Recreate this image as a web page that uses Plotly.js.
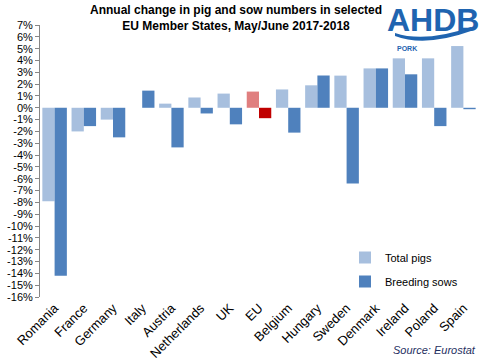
<!DOCTYPE html>
<html>
<head>
<meta charset="utf-8">
<script src="https://cdn.plot.ly/plotly-3.0.1.min.js"></script>
<style>html,body{margin:0;padding:0;background:#fff;}#chart{width:480px;height:360px;}</style>
</head>
<body>
<div id="chart"></div>
<script>
const countries = ["Romania","France","Germany","Italy","Austria","Netherlands","UK","EU","Belgium","Hungary","Sweden","Denmark","Ireland","Poland","Spain"];
const totalPigs = [-7.9,-2.0,-1.0,0.0,0.35,0.87,1.2,1.37,1.55,1.9,2.72,3.33,4.18,4.18,5.22];
const breedingSows = [-14.2,-1.55,-2.5,1.45,-3.35,-0.48,-1.4,-0.88,-2.1,2.73,-6.4,3.33,2.83,-1.55,-0.12];
const yTickVals = [7,6,5,4,3,2,1,0,-1,-2,-3,-4,-5,-6,-7,-8,-9,-10,-11,-12,-13,-14,-15,-16];
const yTickText = yTickVals.map(v => (v < 0 ? "-" + Math.abs(v) : String(v)) + "%");

const lightCol = "#a7bfde", darkCol = "#4f81bd", euLight = "#e07f7f", euDark = "#c00000";
const lightColors = countries.map(c => c === "EU" ? euLight : lightCol);
const darkColors = countries.map(c => c === "EU" ? euDark : darkCol);

const Y0 = -16, Y1 = 7;
const L = 40, R = 2, T = 25, B = 63, W = 480, H = 360;
const pw = W - L - R, ph = H - T - B;
const px = x => (x - L) / pw;
const py = y => (H - B - y) / ph;

const font = "Liberation Sans, Arial, sans-serif";

const traces = [
  {type: "bar", name: "Total pigs", x: countries, y: totalPigs, marker: {color: lightColors}, legendgroup: "a"},
  {type: "bar", name: "Breeding sows", x: countries, y: breedingSows, marker: {color: darkColors}, legendgroup: "b"}
];

function swoosh() {
  const p = [[395,33],[425,43],[471,27],[471,31],[425,47.5],[395,36]];
  const f = q => px(q[0]).toFixed(4) + "," + py(q[1]).toFixed(4);
  return "M" + f(p[0]) + " Q" + f(p[1]) + " " + f(p[2]) + " L" + f(p[3]) + " Q" + f(p[4]) + " " + f(p[5]) + " Z";
}

const layout = {
  width: W, height: H,
  margin: {l: L, r: R, t: T, b: B, pad: 0},
  paper_bgcolor: "#fff", plot_bgcolor: "rgba(0,0,0,0)",
  font: {family: font, size: 11, color: "#000"},
  barmode: "group", bargap: 0.16, bargroupgap: 0,
  xaxis: {
    type: "category", range: [-0.5, 14.5], showline: false, ticks: "", showgrid: false, zeroline: false,
    tickangle: -45, tickfont: {family: font, size: 13, color: "#000"}, automargin: false
  },
  xaxis2: {
    overlaying: "x", anchor: "free", position: (0 - Y0) / (Y1 - Y0), type: "linear",
    range: [-0.5, 14.5], tick0: -0.5, dtick: 1, showticklabels: false, showgrid: false, zeroline: false,
    showline: true, linecolor: "#868686", linewidth: 1, ticks: "outside", ticklen: 5, tickcolor: "#868686"
  },
  yaxis: {
    range: [Y0, Y1], tickmode: "array", tickvals: yTickVals, ticktext: yTickText,
    showline: true, linecolor: "#868686", linewidth: 1, ticks: "outside", ticklen: 4, tickcolor: "#868686",
    showgrid: false, zeroline: false, tickfont: {family: font, size: 11, color: "#000"}, automargin: false
  },
  legend: {
    x: px(345), y: py(243), xanchor: "left", yanchor: "top", orientation: "v",
    font: {family: font, size: 11, color: "#000"}, bgcolor: "rgba(0,0,0,0)", tracegroupgap: 5
  },
  annotations: [
    {xref: "paper", yref: "paper", x: px(236), y: py(1), xanchor: "center", yanchor: "top", showarrow: false,
     text: "<b>Annual change in pig and sow numbers in selected<br>EU Member States, May/June 2017-2018</b>",
     font: {family: font, size: 12, color: "#000"}},
    {xref: "paper", yref: "paper", x: px(478), y: py(350), xanchor: "right", yanchor: "middle", showarrow: false,
     text: "<i>Source: Eurostat</i>", font: {family: font, size: 11, color: "#1f2f5f"}},
    {xref: "paper", yref: "paper", x: px(433), y: py(20), xanchor: "center", yanchor: "middle", showarrow: false,
     text: "<b>AHDB</b>", font: {family: "Liberation Sans Narrow, Arial Narrow, Liberation Sans, sans-serif", size: 32, color: "#1f64b0"}},
    {xref: "paper", yref: "paper", x: px(395), y: py(48.5), xanchor: "left", yanchor: "middle", showarrow: false,
     text: "<b>PORK</b>", font: {family: font, size: 7, color: "#1f64b0"}}
  ],
  shapes: [
    {type: "path", xref: "paper", yref: "paper", path: swoosh(), fillcolor: "#1f64b0", line: {width: 0}}
  ],
  showlegend: true
};

Plotly.newPlot("chart", traces, layout, {displayModeBar: false, staticPlot: true});
</script>
</body>
</html>
